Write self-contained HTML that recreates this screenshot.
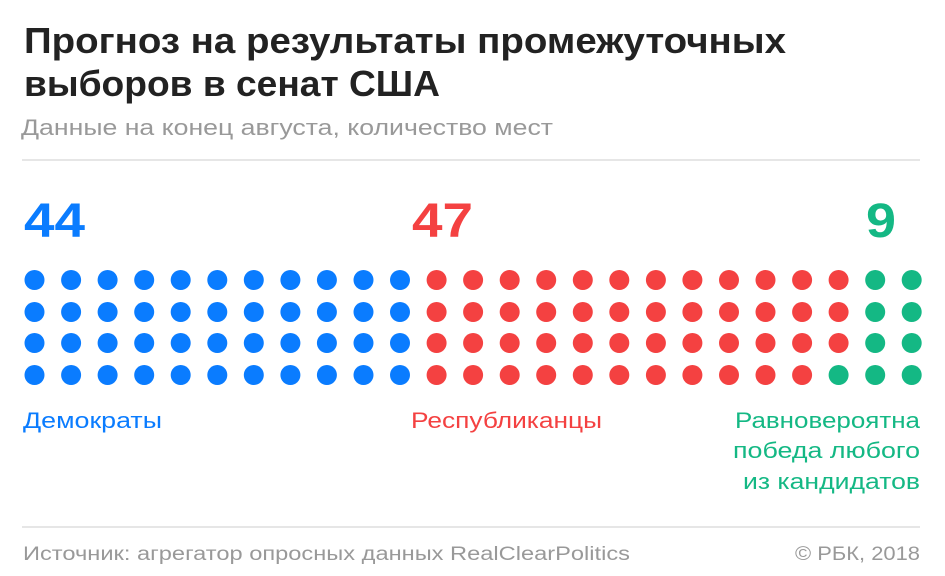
<!DOCTYPE html>
<html><head><meta charset="utf-8"><style>
html,body{margin:0;padding:0;background:#fff;}
svg{display:block;font-family:"Liberation Sans",sans-serif;}
</style></head><body>
<svg width="945" height="576" viewBox="0 0 945 576" xmlns="http://www.w3.org/2000/svg">
<text x="24" y="53" font-size="36" font-weight="bold" fill="#222" textLength="762" lengthAdjust="spacingAndGlyphs">Прогноз на результаты промежуточных</text>
<text x="24" y="96" font-size="36" font-weight="bold" fill="#222" textLength="416" lengthAdjust="spacingAndGlyphs">выборов в сенат США</text>
<text x="21" y="135" font-size="22" fill="#999" textLength="532" lengthAdjust="spacingAndGlyphs">Данные на конец августа, количество мест</text>
<line x1="22" y1="160" x2="920" y2="160" stroke="#ddd" stroke-width="1.5"/>
<text x="24" y="237" font-size="48" font-weight="bold" fill="#0a7cff" textLength="61" lengthAdjust="spacingAndGlyphs">44</text>
<text x="412" y="237" font-size="48" font-weight="bold" fill="#f44141" textLength="61" lengthAdjust="spacingAndGlyphs">47</text>
<text x="866" y="237" font-size="48" font-weight="bold" fill="#14b884" textLength="30" lengthAdjust="spacingAndGlyphs">9</text>
<defs>
<circle id="b" r="10" fill="#0a7cff"/>
<circle id="r" r="10" fill="#f44141"/>
<circle id="g" r="10" fill="#14b884"/>
<g id="cb"><use href="#b" y="280"/><use href="#b" y="312"/><use href="#b" y="343"/><use href="#b" y="375"/></g>
<g id="cr"><use href="#r" y="280"/><use href="#r" y="312"/><use href="#r" y="343"/><use href="#r" y="375"/></g>
<g id="cg"><use href="#g" y="280"/><use href="#g" y="312"/><use href="#g" y="343"/><use href="#g" y="375"/></g>
</defs>
<use href="#cb" x="34.5"/><use href="#cb" x="71.1"/><use href="#cb" x="107.6"/><use href="#cb" x="144.2"/><use href="#cb" x="180.7"/><use href="#cb" x="217.3"/><use href="#cb" x="253.8"/><use href="#cb" x="290.4"/><use href="#cb" x="326.9"/><use href="#cb" x="363.5"/><use href="#cb" x="400.0"/>
<use href="#cr" x="436.6"/><use href="#cr" x="473.1"/><use href="#cr" x="509.7"/><use href="#cr" x="546.2"/><use href="#cr" x="582.8"/><use href="#cr" x="619.3"/><use href="#cr" x="655.9"/><use href="#cr" x="692.4"/><use href="#cr" x="729.0"/><use href="#cr" x="765.5"/><use href="#cr" x="802.1"/>
<use href="#r" x="838.6" y="280"/><use href="#r" x="838.6" y="312"/><use href="#r" x="838.6" y="343"/><use href="#g" x="838.6" y="375"/>
<use href="#cg" x="875.2"/><use href="#cg" x="911.7"/>
<text x="23" y="428" font-size="22" fill="#0a7cff" textLength="139" lengthAdjust="spacingAndGlyphs">Демократы</text>
<text x="411" y="428" font-size="22" fill="#f44141" textLength="191" lengthAdjust="spacingAndGlyphs">Республиканцы</text>
<text x="735" y="428" font-size="22" fill="#14b884" textLength="185" lengthAdjust="spacingAndGlyphs">Равновероятна</text>
<text x="733" y="458" font-size="22" fill="#14b884" textLength="187" lengthAdjust="spacingAndGlyphs">победа любого</text>
<text x="743" y="489" font-size="22" fill="#14b884" textLength="177" lengthAdjust="spacingAndGlyphs">из кандидатов</text>
<line x1="22" y1="527" x2="920" y2="527" stroke="#ddd" stroke-width="1.5"/>
<text x="23" y="560" font-size="19" fill="#999" textLength="607" lengthAdjust="spacingAndGlyphs">Источник: агрегатор опросных данных RealClearPolitics</text>
<text x="795" y="560" font-size="19" fill="#999" textLength="125" lengthAdjust="spacingAndGlyphs">© РБК, 2018</text>
</svg>
</body></html>
